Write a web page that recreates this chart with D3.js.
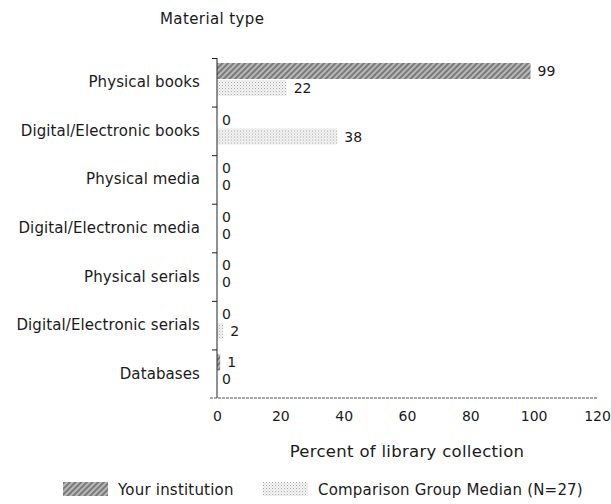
<!DOCTYPE html>
<html>
<head>
<meta charset="utf-8">
<script src="https://cdn.jsdelivr.net/npm/d3@7"></script>
<style>
  body { margin: 0; background: #fff; }
  text { font-family: "DejaVu Sans", sans-serif; fill: #1a1a1a; }
</style>
</head>
<body>
<svg id="chart"></svg>
<script>
const width = 611;
const height = 504;
const categories = [
  "Physical books",
  "Digital/Electronic books",
  "Physical media",
  "Digital/Electronic media",
  "Physical serials",
  "Digital/Electronic serials",
  "Databases"
];
const seriesNames = ["Your institution", "Comparison Group Median (N=27)"];
const yourValues = [99, 0, 0, 0, 0, 0, 1];
const compValues = [22, 38, 0, 0, 0, 2, 0];
const xTicks = [0, 20, 40, 60, 80, 100, 120];

const margin = { top: 58, right: 14, bottom: 106, left: 217 };

let svg = d3.select("#chart").attr("width", width).attr("height", height);

// textures for the two series
let defs = svg.append("defs");
let p1 = defs.append("pattern").attr("id", "pat-your")
  .attr("width", 4).attr("height", 4)
  .attr("patternUnits", "userSpaceOnUse")
  .attr("patternTransform", "rotate(45)");
p1.append("rect").attr("width", 4).attr("height", 4).attr("fill", "#b8b8b8");
p1.append("rect").attr("width", 2).attr("height", 4).attr("fill", "#7a7a7a");

let p2 = defs.append("pattern").attr("id", "pat-comp")
  .attr("width", 3).attr("height", 3)
  .attr("patternUnits", "userSpaceOnUse");
p2.append("rect").attr("width", 3).attr("height", 3).attr("fill", "#f4f4f4");
p2.append("rect").attr("width", 1).attr("height", 1).attr("fill", "#a8a8a8");
p2.append("rect").attr("x", 1.5).attr("y", 1.5).attr("width", 1).attr("height", 1).attr("fill", "#cacaca");

const fills = ["url(#pat-your)", "url(#pat-comp)"];

let x = d3.scaleLinear()
  .domain([0, 120])
  .range([margin.left, width - margin.right]);

let y = d3.scaleBand()
  .domain(categories)
  .range([margin.top, height - margin.bottom]);

let yInner = d3.scaleBand()
  .domain([0, 1])
  .range([5, 38])
  .paddingInner(0.06);

let rows = categories.map((c, i) => ({ cat: c, vals: [yourValues[i], compValues[i]] }));

let g = svg.selectAll(".row").data(rows).enter().append("g")
  .classed("row", true)
  .attr("transform", d => `translate(0,${y(d.cat)})`);

g.selectAll("rect").data(d => d.vals).enter().append("rect")
  .attr("x", x(0))
  .attr("y", (d, j) => yInner(j))
  .attr("width", d => x(d) - x(0))
  .attr("height", yInner.bandwidth())
  .attr("fill", (d, j) => fills[j]);

g.selectAll(".val").data(d => d.vals).enter().append("text")
  .classed("val", true)
  .text(d => d)
  .attr("x", d => x(d) + (d > 0 ? 7 : 5))
  .attr("y", (d, j) => yInner(j) + yInner.bandwidth() / 2 + 5)
  .style("font-size", "14px");

// category labels
svg.selectAll(".cat").data(categories).enter().append("text")
  .classed("cat", true)
  .text(d => d)
  .attr("x", margin.left - 17)
  .attr("y", d => y(d) + y.bandwidth() / 2 + 5)
  .attr("text-anchor", "end")
  .style("font-size", "15px")
  .style("letter-spacing", "0.1px");

// y axis line and ticks at band tops
svg.append("line")
  .attr("x1", x(0)).attr("x2", x(0))
  .attr("y1", margin.top).attr("y2", height - margin.bottom)
  .attr("stroke", "#222");
svg.selectAll(".ytick").data(categories).enter().append("line")
  .attr("x1", x(0) - 5).attr("x2", x(0))
  .attr("y1", d => y(d) + 0.5).attr("y2", d => y(d) + 0.5)
  .attr("stroke", "#222");

// x axis
svg.append("line")
  .attr("x1", x(0) - 7).attr("x2", x(120))
  .attr("y1", height - margin.bottom).attr("y2", height - margin.bottom)
  .attr("stroke", "#555")
  .attr("stroke-dasharray", "3,1");

let xAxis = svg.append("g")
  .attr("transform", `translate(0,${height - margin.bottom})`)
  .call(d3.axisBottom(x).tickValues(xTicks).tickSize(0).tickPadding(13));
xAxis.select(".domain").remove();
xAxis.selectAll("text")
  .style("font-family", "DejaVu Sans, sans-serif")
  .style("font-size", "14px")
  .attr("fill", "#1a1a1a");

svg.append("text")
  .text("Percent of library collection")
  .attr("x", (x(0) + x(120)) / 2)
  .attr("y", 457)
  .attr("text-anchor", "middle")
  .style("font-size", "16.5px")
  .style("letter-spacing", "0.3px");

svg.append("text")
  .text("Material type")
  .attr("x", 160)
  .attr("y", 24)
  .style("font-size", "15px")
  .style("letter-spacing", "0.4px");

// legend
let legendX = [63, 263];
let legend = svg.selectAll(".legend").data(seriesNames).enter().append("g")
  .classed("legend", true)
  .attr("transform", (d, i) => `translate(${legendX[i]},482)`);
legend.append("rect")
  .attr("width", 45).attr("height", 14)
  .attr("fill", (d, i) => fills[i]);
legend.append("text")
  .text(d => d)
  .attr("x", 55)
  .attr("y", 12.5)
  .style("font-size", "15px")
  .style("letter-spacing", "0.2px");
</script>
</body>
</html>
